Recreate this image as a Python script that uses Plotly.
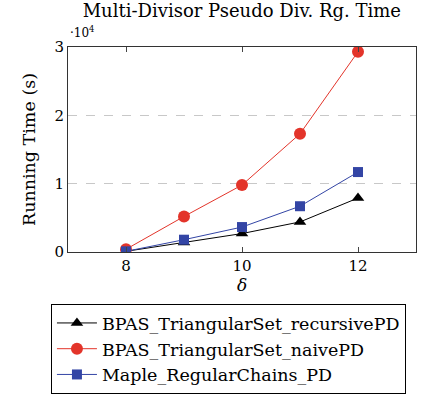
import plotly.graph_objects as go

delta = [8, 9, 10, 11, 12]
recursive_pd = [100, 1400, 2700, 4400, 7900]
naive_pd = [400, 5200, 9800, 17300, 29300]
maple_pd = [100, 1800, 3650, 6700, 11700]

y_tick_vals = [0, 10000, 20000, 30000]
y_tick_text = ["0", "1", "2", "3"]
x_tick_vals = [8, 10, 12]

FONT = "DejaVu Serif"

fig = go.Figure()
fig.add_trace(go.Scatter(x=delta, y=recursive_pd, mode="lines+markers",
                         name="BPAS_TriangularSet_recursivePD",
                         line=dict(color="black", width=1),
                         marker=dict(symbol="triangle-up", size=11, color="black")))
fig.add_trace(go.Scatter(x=delta, y=naive_pd, mode="lines+markers",
                         name="BPAS_TriangularSet_naivePD",
                         line=dict(color="#e3342a", width=1),
                         marker=dict(symbol="circle", size=12, color="#e3342a")))
fig.add_trace(go.Scatter(x=delta, y=maple_pd, mode="lines+markers",
                         name="Maple_RegularChains_PD",
                         line=dict(color="#3345a5", width=1),
                         marker=dict(symbol="square", size=10, color="#3345a5")))

fig.update_layout(
    width=428, height=398,
    margin=dict(l=68, r=12, t=47, b=146, autoexpand=False),
    paper_bgcolor="white", plot_bgcolor="white",
    font=dict(family=FONT, size=15, color="black"),
    title=dict(text="Multi-Divisor Pseudo Div. Rg. Time", x=0.565, xanchor="center",
               y=0.988, yanchor="top", font=dict(size=18, family=FONT)),
    xaxis=dict(range=[7, 13], tickvals=x_tick_vals, ticks="inside", ticklen=5,
               showline=True, linecolor="#333", linewidth=1, mirror="ticks",
               showgrid=False, zeroline=False,
               title=dict(text="<i>δ</i>", font=dict(size=17), standoff=4)),
    yaxis=dict(range=[0, 30000], tickvals=y_tick_vals, ticktext=y_tick_text,
               ticks="", showline=True, linecolor="#333", linewidth=1, mirror=True,
               showgrid=True, gridcolor="#c8c8c8", griddash="dash", gridwidth=1,
               zeroline=False,
               title=dict(text="Running Time (s)", font=dict(size=17.5), standoff=14)),
    legend=dict(x=-0.049, y=-0.254, xanchor="left", yanchor="top",
                bordercolor="black", borderwidth=1, bgcolor="white",
                font=dict(size=17.5, family=FONT), tracegroupgap=0,
                itemwidth=40),
    showlegend=True,
)
fig.add_annotation(x=0, y=1.022, xref="paper", yref="paper", xanchor="left", yanchor="bottom",
                   text="·10<sup>4</sup>", showarrow=False, font=dict(size=12, family=FONT))
fig.write_html("out.html")
